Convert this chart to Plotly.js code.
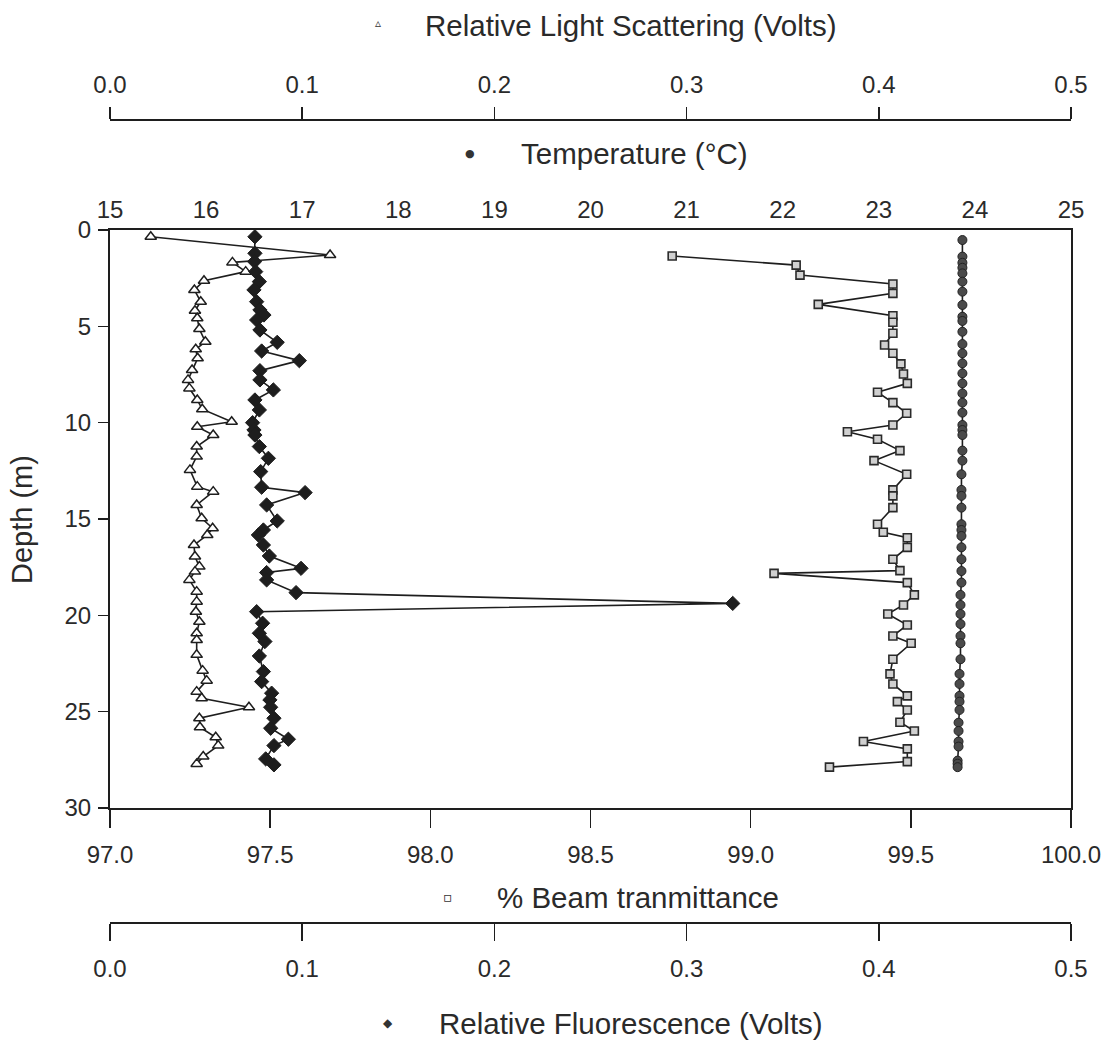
<!DOCTYPE html>
<html>
<head>
<meta charset="utf-8">
<script src="https://cdn.plot.ly/plotly-3.0.1.min.js"></script>
<style>html,body{margin:0;padding:0;background:#fff;}#chart{width:1108px;height:1042px;}</style>
</head>
<body>
<div id="chart"></div>
<script>
// Relative Light Scattering (Volts) vs depth (m)
const lsDepth = [0.35,1.30,1.68,2.16,2.63,3.11,3.72,4.19,4.58,5.14,5.80,6.19,6.66,7.27,7.78,8.22,8.82,9.30,9.95,10.21,10.64,11.24,11.76,12.45,13.32,13.58,14.27,14.96,15.48,15.83,16.35,16.95,17.47,17.73,18.16,18.77,19.29,19.81,20.33,20.93,21.28,22.05,22.87,23.39,23.96,24.30,24.77,25.34,25.81,26.33,26.76,27.33,27.71];
const lsValue = [0.0212,0.1145,0.0637,0.0706,0.0489,0.0439,0.0472,0.0442,0.0454,0.0465,0.0496,0.0446,0.0456,0.0427,0.0406,0.0413,0.0454,0.0480,0.0633,0.0454,0.0537,0.0451,0.0451,0.0416,0.0454,0.0537,0.0451,0.0477,0.0534,0.0506,0.0437,0.0442,0.0465,0.0442,0.0413,0.0451,0.0451,0.0447,0.0465,0.0451,0.0451,0.0451,0.0482,0.0503,0.0451,0.0477,0.0723,0.0465,0.0468,0.0550,0.0563,0.0485,0.0451];

// Relative Fluorescence (Volts) vs depth (m)
const flDepth = [0.35,1.21,1.64,2.16,2.68,3.11,3.72,4.15,4.41,4.67,5.19,5.83,6.28,6.78,7.30,7.78,8.30,8.82,9.34,10.00,10.38,10.64,11.24,11.85,12.54,13.35,13.63,14.27,15.10,15.57,15.83,16.35,16.92,17.56,17.78,18.16,18.82,19.38,19.81,20.41,20.93,21.36,22.11,22.92,23.44,24.04,24.39,24.77,25.34,25.86,26.43,26.76,27.45,27.76];
const flValue = [0.0754,0.0754,0.0752,0.0758,0.0777,0.0749,0.0763,0.0780,0.0801,0.0763,0.0780,0.0870,0.0789,0.0985,0.0780,0.0780,0.0850,0.0754,0.0777,0.0742,0.0749,0.0754,0.0777,0.0824,0.0784,0.0789,0.1015,0.0815,0.0870,0.0798,0.0772,0.0798,0.0829,0.0994,0.0815,0.0815,0.0968,0.3240,0.0763,0.0794,0.0777,0.0806,0.0777,0.0798,0.0789,0.0841,0.0832,0.0836,0.0853,0.0836,0.0928,0.0853,0.0810,0.0853];

// % Beam transmittance vs depth (m)
const btDepth = [1.35,1.82,2.34,2.80,3.29,3.86,4.45,4.79,5.36,5.97,6.40,6.95,7.47,7.96,8.42,8.96,9.51,10.12,10.47,10.86,11.45,11.97,12.68,13.49,13.80,14.41,15.27,15.69,15.97,16.47,17.09,17.68,17.82,18.30,18.94,19.46,19.93,20.50,21.07,21.45,22.28,23.04,23.56,24.18,24.48,24.91,25.55,26.00,26.55,26.93,27.59,27.88];
const btValue = [98.755,99.142,99.154,99.444,99.444,99.211,99.444,99.444,99.444,99.418,99.444,99.469,99.477,99.489,99.396,99.444,99.487,99.444,99.302,99.396,99.466,99.385,99.487,99.444,99.444,99.444,99.396,99.414,99.489,99.489,99.444,99.466,99.073,99.489,99.511,99.477,99.428,99.489,99.444,99.501,99.444,99.435,99.444,99.489,99.458,99.489,99.466,99.511,99.352,99.489,99.489,99.246];

// Temperature (°C) vs depth (m)
const tDepth = [0.52,1.38,1.70,1.96,2.25,2.68,3.20,3.89,4.50,4.72,5.28,5.92,6.40,6.92,7.44,7.96,8.48,8.96,9.48,10.12,10.38,10.64,11.45,11.97,12.68,13.49,13.80,14.41,15.27,15.57,15.88,16.47,17.09,17.70,18.30,18.94,19.46,19.93,20.45,21.07,21.45,22.28,23.04,23.56,24.18,24.48,24.91,25.57,26.00,26.55,26.81,27.54,27.70,27.88];
const tValue = [23.87,23.87,23.87,23.87,23.87,23.87,23.87,23.87,23.87,23.87,23.87,23.87,23.87,23.87,23.87,23.87,23.87,23.87,23.87,23.87,23.87,23.87,23.87,23.87,23.86,23.86,23.86,23.86,23.86,23.86,23.86,23.86,23.86,23.86,23.86,23.85,23.85,23.85,23.85,23.85,23.85,23.85,23.84,23.84,23.84,23.84,23.84,23.83,23.83,23.83,23.83,23.82,23.82,23.82];

// Axis ticks
const btTicks = [97.0,97.5,98.0,98.5,99.0,99.5,100.0];
const voltTicks = [0.0,0.1,0.2,0.3,0.4,0.5];
const tempTicks = [15,16,17,18,19,20,21,22,23,24,25];
const depthTicks = [0,5,10,15,20,25,30];

const FONT = 'Liberation Sans, Arial, Helvetica, sans-serif';
const INK = '#2a2a2a';
const lineStyle = {color: '#1e1e1e', width: 1.6};

const traces = [
  {x: btValue, y: btDepth, xaxis: 'x', yaxis: 'y', mode: 'lines+markers', name: '% Beam tranmittance',
   line: lineStyle, marker: {symbol: 'square', size: 8, color: '#d0d0d0', line: {color: '#2a2a2a', width: 1.6}}},
  {x: tValue, y: tDepth, xaxis: 'x2', yaxis: 'y', mode: 'lines+markers', name: 'Temperature',
   line: lineStyle, marker: {symbol: 'circle', size: 9, color: '#4a4a4a', line: {color: '#222', width: 1}}},
  {x: lsValue, y: lsDepth, xaxis: 'x3', yaxis: 'y', mode: 'lines+markers', name: 'Relative Light Scattering',
   line: lineStyle, marker: {symbol: 'triangle-up', size: 10, color: '#ffffff', line: {color: '#1e1e1e', width: 1.5}}},
  {x: flValue, y: flDepth, xaxis: 'x4', yaxis: 'y', mode: 'lines+markers', name: 'Relative Fluorescence',
   line: lineStyle, marker: {symbol: 'diamond', size: 11, color: '#1e1e1e', line: {color: '#1e1e1e', width: 1}}}
];

const tickFont = {family: FONT, size: 24, color: INK};
const baseAxis = {showgrid: false, zeroline: false, showline: true, linecolor: '#1e1e1e', linewidth: 2,
  tickcolor: '#1e1e1e', tickwidth: 1.5, tickfont: tickFont, fixedrange: true};

const X0 = 110, XW = 961, YB = 923, YH = 803;
const px = v => (v - X0) / XW;
const py = v => (YB - v) / YH;

function label(text, x, y, size) {
  return {text: text, xref: 'paper', yref: 'paper', x: px(x), y: py(y), xanchor: 'center', yanchor: 'middle',
    showarrow: false, font: {family: FONT, size: size, color: INK}};
}
function sym(text, x, y, size) {
  return {text: text, xref: 'paper', yref: 'paper', x: px(x), y: py(y), xanchor: 'center', yanchor: 'middle',
    showarrow: false, font: {family: 'DejaVu Sans, sans-serif', size: size, color: '#333'}};
}

const layout = {
  width: 1108, height: 1042,
  margin: {l: 110, r: 37, t: 120, b: 119, pad: 0},
  paper_bgcolor: '#ffffff', plot_bgcolor: '#ffffff',
  showlegend: false,
  font: {family: FONT, color: INK},
  xaxis: Object.assign({}, baseAxis, {range: [97, 100], tickvals: btTicks, ticktext: btTicks.map(v => v.toFixed(1)),
    ticks: 'outside', ticklen: 18, side: 'bottom', anchor: 'y', ticklabelstandoff: 6}),
  xaxis2: Object.assign({}, baseAxis, {range: [15, 25], tickvals: tempTicks, ticktext: tempTicks.map(String),
    ticks: '', side: 'top', anchor: 'y', overlaying: 'x', ticklabelstandoff: 0}),
  xaxis3: Object.assign({}, baseAxis, {range: [0, 0.5], tickvals: voltTicks, ticktext: voltTicks.map(v => v.toFixed(1)),
    ticks: 'outside', ticklen: 12, side: 'top', anchor: 'free', position: 1, overlaying: 'x', ticklabelstandoff: 4}),
  xaxis4: Object.assign({}, baseAxis, {range: [0, 0.5], tickvals: voltTicks, ticktext: voltTicks.map(v => v.toFixed(1)),
    ticks: 'outside', ticklen: 17, side: 'bottom', anchor: 'free', position: 0, overlaying: 'x', ticklabelstandoff: 7}),
  yaxis: Object.assign({}, baseAxis, {domain: [0.1432, 0.863], range: [30, 0], tickvals: depthTicks, ticktext: depthTicks.map(String),
    ticks: 'outside', ticklen: 10, mirror: true, anchor: 'x', ticklabelstandoff: 2}),
  annotations: [
    sym('\u25B5', 378, 23, 12), label('Relative Light Scattering (Volts)', 631, 26, 29.5),
    sym('\u25CF', 470, 153, 11), label('Temperature (\u00B0C)', 634, 153, 29.5),
    sym('\u25AB', 448, 897, 14), label('% Beam tranmittance', 638, 897, 29.5),
    sym('\u25C6', 388, 1023, 12), label('Relative Fluorescence (Volts)', 631, 1023, 29.5),
    {text: 'Depth (m)', xref: 'paper', yref: 'paper', x: px(22), y: py(520), xanchor: 'center', yanchor: 'middle',
     textangle: -90, showarrow: false, font: {family: FONT, size: 29, color: INK}}
  ]
};

Plotly.newPlot('chart', traces, layout, {displayModeBar: false, staticPlot: true});
</script>
</body>
</html>
